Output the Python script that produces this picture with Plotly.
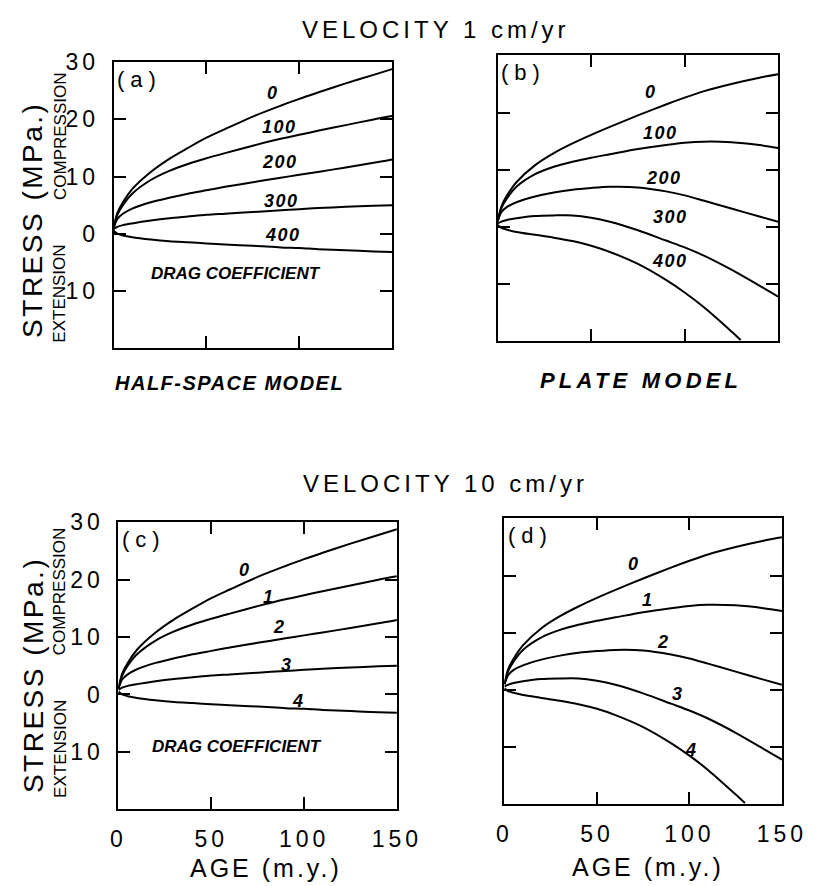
import plotly.graph_objects as go

FONT = "Liberation Sans, Arial, Helvetica, sans-serif"

PAGE_W, PAGE_H = 830, 886

# Plate age (m.y.) at which stresses were sampled
AGE = [0, 2, 5, 10, 20, 30, 40, 50, 60, 75, 90, 100, 110, 125, 140, 150]
AGE_STEEP = [0, 2, 5, 10, 20, 30, 40, 50, 60, 75, 90, 100, 110, 125, 130]

# Half-space cooling model: ridge-push stress (MPa, compression positive)
HS_0 = [1.0, 3.6, 5.5, 7.8, 10.8, 13.1, 15.0, 16.8, 18.3, 20.5, 22.4, 23.6, 24.7, 26.3, 27.8, 28.8]
HS_1 = [1.0, 3.3, 5.0, 7.0, 9.4, 11.0, 12.2, 13.2, 14.1, 15.4, 16.6, 17.3, 18.0, 19.0, 20.0, 20.6]
HS_2 = [1.0, 2.6, 3.5, 4.4, 5.5, 6.3, 7.0, 7.6, 8.2, 9.0, 9.8, 10.3, 10.8, 11.6, 12.4, 13.0]
HS_3 = [0.8, 1.2, 1.5, 1.8, 2.3, 2.7, 3.0, 3.3, 3.5, 3.8, 4.1, 4.3, 4.5, 4.7, 4.9, 5.0]
HS_4 = [0.5, 0.0, -0.3, -0.6, -1.0, -1.3, -1.5, -1.7, -1.9, -2.1, -2.4, -2.5, -2.7, -2.9, -3.1, -3.2]

# Plate model
PL_0 = [1.0, 3.6, 5.5, 7.8, 10.8, 12.9, 14.6, 16.1, 17.5, 19.5, 21.4, 22.6, 23.7, 25.0, 26.1, 26.7]
PL_1 = [1.0, 3.3, 5.0, 7.0, 9.2, 10.5, 11.4, 12.1, 12.7, 13.6, 14.3, 14.7, 14.9, 14.8, 14.3, 13.8]
PL_2 = [1.0, 2.6, 3.5, 4.3, 5.3, 6.0, 6.5, 6.8, 7.0, 6.9, 6.2, 5.5, 4.6, 3.2, 1.8, 0.9]
PL_3 = [0.6, 0.9, 1.2, 1.5, 1.9, 2.0, 2.0, 1.6, 0.9, -0.6, -2.4, -3.6, -5.0, -7.5, -10.3, -12.2]
PL_4 = [0.3, -0.2, -0.5, -0.9, -1.4, -1.9, -2.5, -3.3, -4.4, -6.5, -9.3, -11.5, -14.0, -18.3, -19.8]

DRAG_SLOW = ["0", "100", "200", "300", "400"]
DRAG_FAST = ["0", "1", "2", "3", "4"]

X_TICKS = [0, 50, 100, 150]
Y_TICKS = [-10, 0, 10, 20, 30]
Y_TICK_TEXT = ["10", "0", "10", "20", "30"]


def fx(x_page):
    return x_page / PAGE_W


def fy(y_page):
    return 1 - y_page / PAGE_H


def spaced(text, px):
    return f'<span style="letter-spacing:{px}px">{text}</span>'


fig = go.Figure()

panels = [
    # suffix, frame (left, right, top, bottom) in px, curves, ages, labels, label positions, tag
    ("", (110, 400, 50, 340),
     [HS_0, HS_1, HS_2, HS_3, HS_4], [AGE] * 5, DRAG_SLOW,
     [(86, 24.6), (89.5, 18.6), (89.5, 12.5), (90.5, 5.8), (91, -0.2)], "(a)"),
    ("2", (510, 802, 43, 333),
     [PL_0, PL_1, PL_2, PL_3, PL_4], [AGE] * 4 + [AGE_STEEP], DRAG_SLOW,
     [(82, 23.6), (87, 16.5), (89, 8.6), (92.5, 1.7), (92, -6.0)], "(b)"),
    ("3", (115, 405, 517, 808),
     [HS_0, HS_1, HS_2, HS_3, HS_4], [AGE] * 5, DRAG_FAST,
     [(68, 21.7), (81, 17.0), (87, 11.8), (91, 5.2), (97, -1.2)], "(c)"),
    ("4", (517, 806, 513, 803),
     [PL_0, PL_1, PL_2, PL_3, PL_4], [AGE] * 4 + [AGE_STEEP], DRAG_FAST,
     [(70, 22.0), (77.5, 15.7), (86, 8.4), (93.6, -0.7), (101, -10.5)], "(d)"),
]

layout_axes = {}
annotations = []

for sfx, (left, right, top, bottom), curves, ages, labels, label_pos, tag in panels:
    xa, ya = "x" + sfx, "y" + sfx
    for ys, xs in zip(curves, ages):
        fig.add_trace(go.Scatter(
            x=xs, y=ys, mode="lines", xaxis=xa, yaxis=ya,
            line=dict(color="black", width=2, shape="spline", smoothing=0.8),
            showlegend=False, hoverinfo="skip"))
    for lab, (ax_, ay_) in zip(labels, label_pos):
        annotations.append(dict(
            x=ax_, y=ay_, xref=xa, yref=ya,
            text=spaced(f"<b><i>{lab}</i></b>", 1.5),
            showarrow=False, font=dict(family=FONT, size=18, color="black")))
    annotations.append(dict(
        x=14, y=27, xref=xa, yref=ya, text=spaced(tag, 6),
        showarrow=False, font=dict(family=FONT, size=22, color="black")))
    if tag in ("(a)", "(c)"):
        annotations.append(dict(
            x=66 if tag == "(a)" else 64, y=-7.0 if tag == "(a)" else -9.0,
            xref=xa, yref=ya, text="<b><i>DRAG COEFFICIENT</i></b>",
            showarrow=False, font=dict(family=FONT, size=17, color="black")))

    bottom_row = tag in ("(c)", "(d)")
    left_col = tag in ("(a)", "(c)")
    common = dict(ticks="inside", ticklen=12, tickwidth=2, tickcolor="black",
                  showline=True, linewidth=2, linecolor="black",
                  mirror="allticks", showgrid=False, zeroline=False,
                  tickfont=dict(family=FONT, size=23, color="black"),
                  ticklabelstandoff=8, fixedrange=True)
    layout_axes["xaxis" + sfx] = dict(
        domain=[fx(left), fx(right)], anchor=ya, range=[0, 150],
        tickvals=X_TICKS, ticktext=[spaced(str(v), 4) for v in X_TICKS],
        showticklabels=bottom_row, **common)
    layout_axes["yaxis" + sfx] = dict(
        domain=[fy(bottom), fy(top)], anchor=xa, range=[-20, 30],
        tickvals=Y_TICKS, ticktext=[spaced(t, 4) for t in Y_TICK_TEXT],
        showticklabels=left_col, **common)


def paper_text(x_page, y_page, text, size, angle=0, bold_italic=False):
    if bold_italic:
        text = f"<b><i>{text}</i></b>"
    annotations.append(dict(
        x=fx(x_page), y=fy(y_page), xref="paper", yref="paper",
        text=text, showarrow=False, textangle=angle,
        xanchor="center", yanchor="middle",
        font=dict(family=FONT, size=size, color="black")))


paper_text(446, 17, spaced("VELOCITY 1 cm/yr", 4), 24)
paper_text(456, 477, spaced("VELOCITY 10 cm/yr", 4), 24)
paper_text(231, 376, spaced("HALF-SPACE MODEL", 1.5), 20, bold_italic=True)
paper_text(659, 373, spaced("PLATE MODEL", 4.2), 22, bold_italic=True)

for offset in (0, 462):
    paper_text(26, 210 + offset, spaced("STRESS (MPa.)", 2.5), 28, angle=-90)
    paper_text(54, 125 + offset, "COMPRESSION", 17, angle=-90)
    paper_text(54, 285 + offset, "EXTENSION", 17, angle=-90)

paper_text(269, 868, spaced("AGE (m.y.)", 3), 25)
paper_text(666, 867, spaced("AGE (m.y.)", 3), 25)

fig.update_layout(
    width=PAGE_W, height=PAGE_H,
    margin=dict(l=0, r=0, t=0, b=0),
    paper_bgcolor="white", plot_bgcolor="white",
    annotations=annotations,
    **layout_axes)

fig.write_html("out.html")
